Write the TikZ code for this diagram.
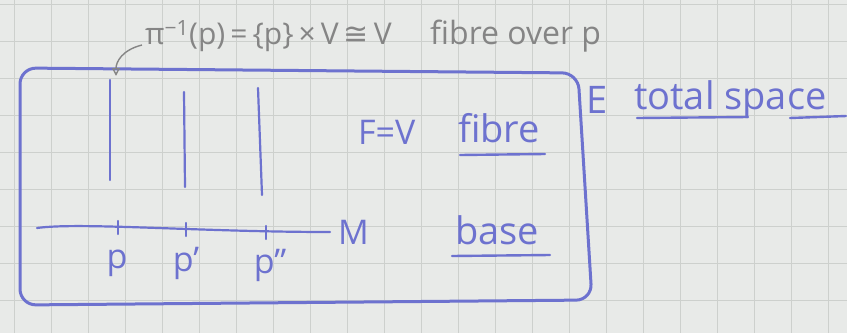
\documentclass[tikz,border=0pt]{standalone}
\usepackage{fontspec}
\setmainfont{Open Sans}
\newfontfamily\symf{DejaVu Sans}
\usetikzlibrary{arrows.meta}
\definecolor{paper}{HTML}{E8EAE8}
\definecolor{gridc}{HTML}{CDD0CD}
\definecolor{ink}{HTML}{6D72CF}
\definecolor{pencil}{HTML}{858585}
\tikzset{
  inkline/.style={draw=ink, line width=3pt, line cap=round},
  fibreline/.style={draw=ink, line width=2.2pt, line cap=round},
  inktext/.style={text=ink, font=\fontsize{34}{38}\selectfont, inner sep=0pt},
  bigtext/.style={text=ink, font=\fontsize{38}{42}\selectfont, inner sep=0pt},
  penciltext/.style={text=pencil, font=\fontsize{30}{34}\selectfont, inner sep=0pt},
  uline/.style={draw=ink, line width=2.4pt, line cap=round},
}
\begin{document}
\begin{tikzpicture}[x=1pt,y=-1pt]
\fill[paper] (0,0) rectangle (847,333);
\useasboundingbox (0,0) rectangle (847,333);
% grid
\foreach \i in {0,...,23} {\draw[gridc, line width=0.7pt] ({14+37*\i},0) -- ({14+37*\i},333);}
\foreach \j in {0,...,9} {\draw[gridc, line width=0.7pt] (0,{4+37*\j}) -- (847,{4+37*\j});}
% total space box
\draw[inkline, rounded corners=16pt] (20,68) -- (578,73) -- (592,300) -- (20,305) -- cycle;
% fibres
\coordinate (f1t) at (110,80); \coordinate (f1b) at (110,180);
\coordinate (f2t) at (184,92); \coordinate (f2b) at (185,187);
\coordinate (f3t) at (258,88); \coordinate (f3b) at (262,195);
\draw[fibreline] (f1t) -- (f1b);
\draw[fibreline] (f2t) -- (f2b);
\draw[fibreline] (f3t) -- (f3b);
% base
\coordinate (b0) at (37,228);
\coordinate (b1) at (330,232);
\draw[fibreline] (b0) .. controls (80,222) and (200,232) .. (b1);
\foreach \x/\y in {118/227, 186/229, 266/232} {\draw[fibreline] (\x,{\y-6}) -- (\x,{\y+7});}
\node[inktext, anchor=west] (M) at (338,232) {M};
\node[inktext] (p1) at (117,263) {p};
\node[inktext] (p2) at (186,263) {p'};
\node[inktext] (p3) at (270,265) {p''};
% labels
\node[inktext, anchor=west] (FV) at (358,132) {F=V};
\node[bigtext, anchor=west] (fibre) at (458,128) {fibre};
\draw[uline] (460,155) -- (545,154);
\node[bigtext, anchor=west] (base) at (455,230) {base};
\draw[uline] (452,256) -- (550,255);
\node[bigtext] (E) at (597,100) {E};
\node[bigtext, anchor=west] (total) at (634,100) {total space};
\draw[uline] (637,118) -- (748,117);
\draw[uline] (790,118) -- (846,116);
% top annotation
\node[penciltext, anchor=west] (pre) at (145,36) {π\textsuperscript{−1}(p)\,=\,\{p\}\,×\,V\,{\symf ≅}\,V};
\node[penciltext, anchor=west, font=\fontsize{32}{36}\selectfont] (fo) at (430,36) {fibre over p};
\coordinate (as) at (142,45);
\coordinate (ae) at (116,76);
\draw[pencil, line width=1.4pt, -{Triangle[open, length=8pt, width=8pt]}] (as) .. controls (122,50) and (116,62) .. (ae);
\end{tikzpicture}
\end{document}
